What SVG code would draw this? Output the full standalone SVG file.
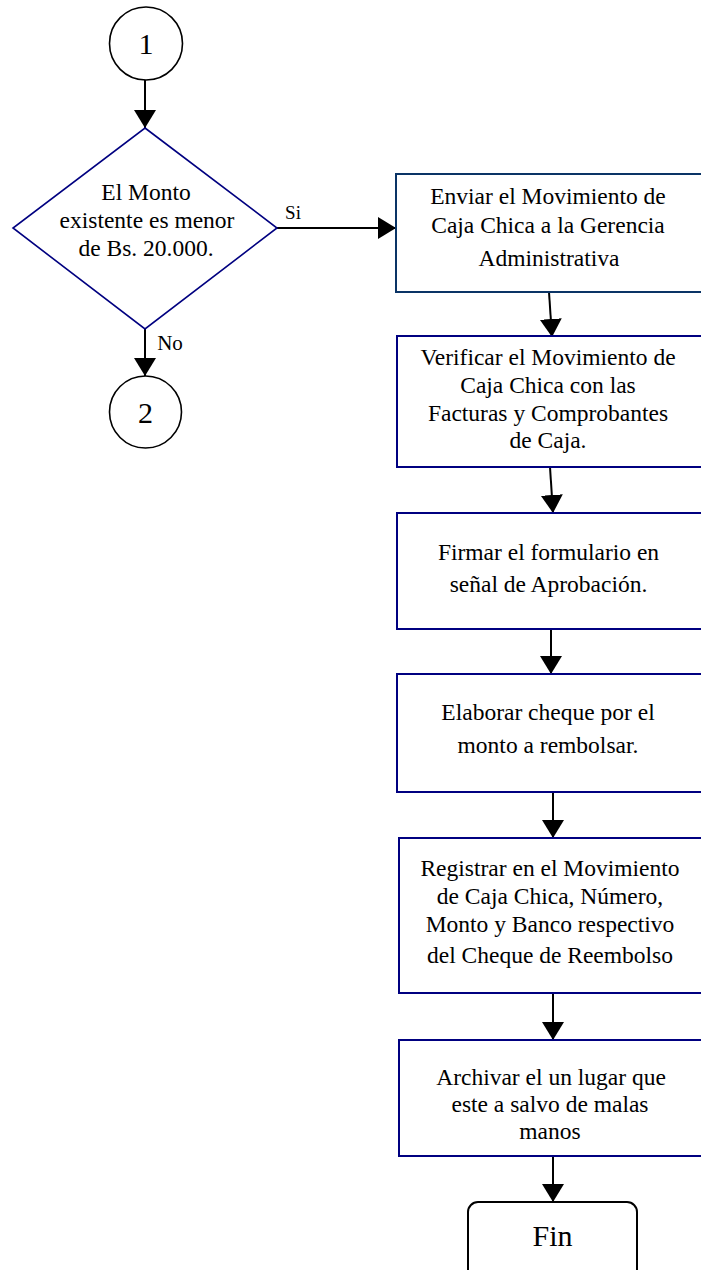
<svg xmlns="http://www.w3.org/2000/svg" width="701" height="1270" viewBox="0 0 701 1270">
  <style>
    .txt { font-family: "Liberation Serif", "Times New Roman", serif; font-size: 23.5px; fill: #000; text-anchor: middle; }
    .big { font-size: 30px; }
    .lbl { font-family: "Liberation Serif", "Times New Roman", serif; fill: #000; }
    .proc { fill: #fff; stroke: #000080; stroke-width: 2; }
    .proc1 { fill: #fff; stroke: #0a3466; stroke-width: 2; }
    .conn { fill: none; stroke: #000; stroke-width: 2; }
    .circ { fill: #fff; stroke: #000; stroke-width: 1.6; }
  </style>
  <defs>
    <marker id="arrow" viewBox="0 0 18 22" refX="18" refY="11" markerWidth="18" markerHeight="22" markerUnits="userSpaceOnUse" orient="auto">
      <path d="M0,0 L18,11 L0,22 Z" fill="#000"/>
    </marker>
  </defs>

  <rect width="701" height="1270" fill="#fff"/>

  <!-- connectors -->
  <g id="connectors">
    <line class="conn" x1="145" y1="80" x2="145" y2="128" marker-end="url(#arrow)"/>
    <line class="conn" x1="277" y1="228" x2="396" y2="228" marker-end="url(#arrow)"/>
    <text class="lbl" x="293" y="219" font-size="19" text-anchor="middle">Si</text>
    <line class="conn" x1="145" y1="329" x2="145" y2="376" marker-end="url(#arrow)"/>
    <text class="lbl" x="170" y="350" font-size="21" text-anchor="middle">No</text>
    <line class="conn" x1="549" y1="292" x2="552" y2="337" marker-end="url(#arrow)"/>
    <line class="conn" x1="550" y1="467" x2="553" y2="513" marker-end="url(#arrow)"/>
    <line class="conn" x1="551" y1="629" x2="551" y2="674" marker-end="url(#arrow)"/>
    <line class="conn" x1="553" y1="792" x2="553" y2="838" marker-end="url(#arrow)"/>
    <line class="conn" x1="553" y1="993" x2="553" y2="1040" marker-end="url(#arrow)"/>
    <line class="conn" x1="553" y1="1156" x2="553" y2="1202" marker-end="url(#arrow)"/>
  </g>

  <!-- connector 1 -->
  <g id="conector-1">
    <circle class="circ" cx="146" cy="43.5" r="36.5"/>
    <text class="txt big" x="146" y="54">1</text>
  </g>

  <!-- decision -->
  <g id="decision">
    <polygon points="145,128 277,228 145,329 13,228" fill="#fff" stroke="#000080" stroke-width="1.6"/>
    <text class="txt" x="146" y="200">El Monto</text>
    <text class="txt" x="147" y="228">existente es menor</text>
    <text class="txt" x="146" y="256">de Bs. 20.000.</text>
  </g>

  <!-- connector 2 -->
  <g id="conector-2">
    <circle class="circ" cx="145.5" cy="412" r="36"/>
    <text class="txt big" x="145.5" y="423">2</text>
  </g>

  <!-- process steps (open to the right edge) -->
  <g id="enviar">
    <rect class="proc1" x="396" y="174" width="320" height="118"/>
    <text class="txt" x="548" y="204">Enviar el Movimiento de</text>
    <text class="txt" x="548" y="233">Caja Chica a la Gerencia</text>
    <text class="txt" x="549" y="266">Administrativa</text>
  </g>

  <g id="verificar">
    <rect class="proc" x="397" y="336" width="320" height="131"/>
    <text class="txt" x="548" y="365">Verificar el Movimiento de</text>
    <text class="txt" x="548" y="393">Caja Chica con las</text>
    <text class="txt" x="548" y="421">Facturas y Comprobantes</text>
    <text class="txt" x="548" y="448">de Caja.</text>
  </g>

  <g id="firmar">
    <rect class="proc" x="397" y="513" width="320" height="116"/>
    <text class="txt" x="548.5" y="560">Firmar el formulario en</text>
    <text class="txt" x="548.5" y="592">señal de Aprobación.</text>
  </g>

  <g id="elaborar">
    <rect class="proc" x="397" y="674" width="320" height="118"/>
    <text class="txt" x="548" y="720">Elaborar cheque por el</text>
    <text class="txt" x="548" y="753">monto a rembolsar.</text>
  </g>

  <g id="registrar">
    <rect class="proc" x="399" y="838" width="320" height="155"/>
    <text class="txt" x="550" y="876">Registrar en el Movimiento</text>
    <text class="txt" x="550" y="904">de Caja Chica, Número,</text>
    <text class="txt" x="550" y="932">Monto y Banco respectivo</text>
    <text class="txt" x="550" y="963">del Cheque de Reembolso</text>
  </g>

  <g id="archivar">
    <rect class="proc" x="399" y="1040" width="320" height="116"/>
    <text class="txt" x="551" y="1085">Archivar el un lugar que</text>
    <text class="txt" x="550" y="1112">este a salvo de malas</text>
    <text class="txt" x="550" y="1139">manos</text>
  </g>

  <!-- terminator -->
  <g id="fin">
    <rect x="468" y="1202" width="169" height="90" rx="10" ry="10" fill="#fff" stroke="#000" stroke-width="2"/>
    <text class="txt big" x="552.5" y="1246">Fin</text>
  </g>
</svg>
